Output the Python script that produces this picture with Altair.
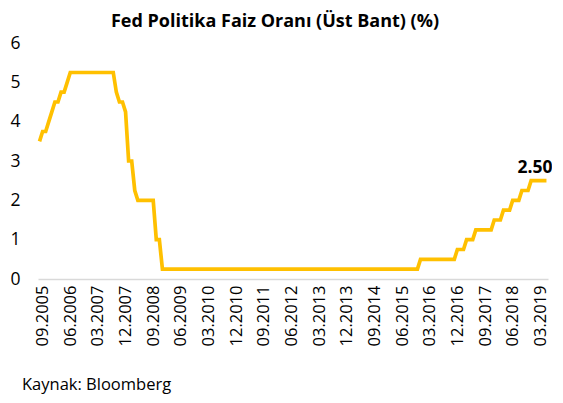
import altair as alt
import pandas as pd

# Monthly (month-end) Fed upper bound, 08.2005 - 05.2019
months = [d.strftime("%m.%Y") for d in pd.date_range("2005-08-01", "2019-05-01", freq="MS")]
rate = (
    [3.5, 3.75, 3.75, 4.0, 4.25]                                   # 2005 Aug-Dec
    + [4.5, 4.5, 4.75, 4.75, 5.0, 5.25, 5.25, 5.25, 5.25, 5.25, 5.25, 5.25]  # 2006
    + [5.25, 5.25, 5.25, 5.25, 5.25, 5.25, 5.25, 5.25, 4.75, 4.5, 4.5, 4.25]  # 2007
    + [3.0, 3.0, 2.25, 2.0, 2.0, 2.0, 2.0, 2.0, 2.0, 1.0, 1.0, 0.25]          # 2008
    + [0.25] * 72                                                   # 2009-2014
    + [0.25] * 11 + [0.5]                                           # 2015
    + [0.5] * 11 + [0.75]                                           # 2016
    + [0.75, 0.75, 1.0, 1.0, 1.0, 1.25, 1.25, 1.25, 1.25, 1.25, 1.25, 1.5]   # 2017
    + [1.5, 1.5, 1.75, 1.75, 1.75, 2.0, 2.0, 2.0, 2.25, 2.25, 2.25, 2.5]     # 2018
    + [2.5, 2.5, 2.5, 2.5, 2.5]                                     # 2019 Jan-May
)
tick_labels = ["09.2005", "06.2006", "03.2007", "12.2007", "09.2008", "06.2009",
               "03.2010", "12.2010", "09.2011", "06.2012", "03.2013", "12.2013",
               "09.2014", "06.2015", "03.2016", "12.2016", "09.2017", "06.2018", "03.2019"]
y_ticks = [0, 1, 2, 3, 4, 5, 6]
title_text = "Fed Politika Faiz Oranı (Üst Bant) (%)"
source_text = "Kaynak: Bloomberg"

df = pd.DataFrame({"month": months, "rate": rate})

FONT = "Open Sans"

x_axis = alt.Axis(values=tick_labels, labelAngle=270, labelFontSize=16.5,
                  labelColor="#000000", labelFont=FONT, labelPadding=6,
                  labelOverlap=False, labelBound=False,
                  ticks=False, domainColor="#d9d9d9", domainWidth=1.5,
                  title=None, grid=False)
y_axis = alt.Axis(values=y_ticks, labelFontSize=17.5,
                  labelOverlap=False, labelBound=False, labelFlush=False,
                  labelColor="#000000", labelFont=FONT, labelPadding=18,
                  ticks=False, domain=False, grid=False, title=None)

base = alt.Chart(df).encode(
    x=alt.X("month:O", sort=None, scale=alt.Scale(paddingOuter=0.5), axis=x_axis),
    y=alt.Y("rate:Q", scale=alt.Scale(domain=[0, 6], nice=False), axis=y_axis),
)

line = base.mark_line(color="#FFC000", strokeWidth=3.7)

label = base.mark_text(
    align="right", baseline="alphabetic", dx=6, dy=-8,
    fontSize=17.5, fontWeight="bold", font=FONT, color="#000000"
).encode(text=alt.Text("rate:Q", format=".2f")).transform_filter(
    alt.datum.month == months[-1]
)

source = alt.Chart(pd.DataFrame({"t": [source_text]})).mark_text(
    align="left", baseline="alphabetic", fontSize=16.5, font=FONT, color="#000000"
).encode(x=alt.value(-16), y=alt.value(347), text="t:N")

chart = alt.layer(line, label, source).properties(
    width=510, height=236,
    autosize=alt.AutoSizeParams(type="none"),
    padding={"left": 30, "top": 35, "right": 4, "bottom": 116},
    title=alt.TitleParams(title_text, fontSize=18, fontWeight="bold", font=FONT,
                          color="#000000", anchor="middle", dx=-18, offset=3),
).configure_view(stroke=None)

chart.save("out.html", embed_options={"renderer": "svg", "actions": False})
